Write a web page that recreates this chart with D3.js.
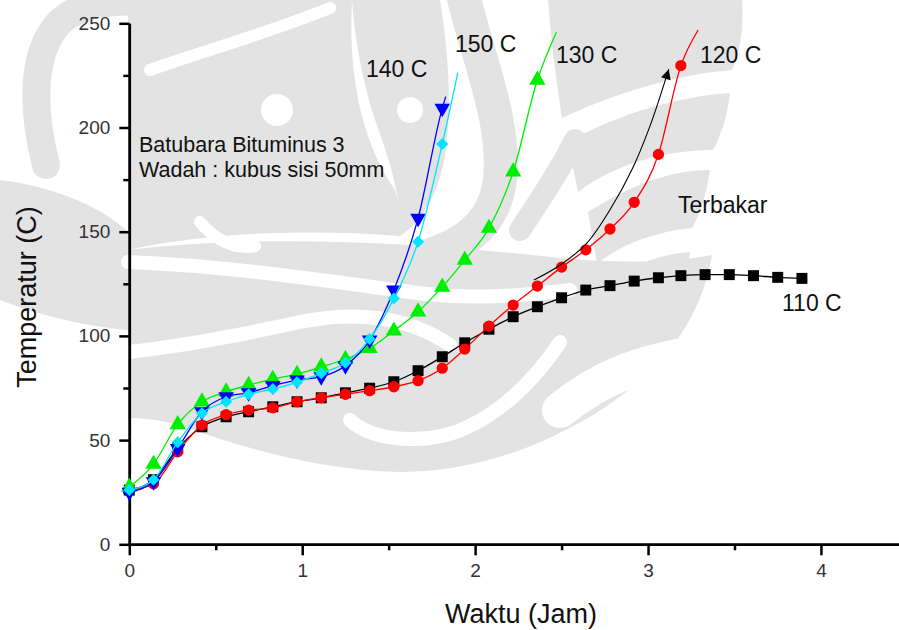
<!DOCTYPE html>
<html>
<head>
<meta charset="utf-8">
<script src="https://cdn.jsdelivr.net/npm/d3@7/dist/d3.min.js"></script>
<style>
  html, body { margin: 0; padding: 0; background: #fff; }
  svg { display: block; }
  text { font-family: "Liberation Sans", Arial, sans-serif; }
</style>
</head>
<body>
<svg id="chart" width="899" height="630"></svg>
<script>
// Sampling times (hours)
const times = [0, 0.14, 0.28, 0.42, 0.56, 0.69, 0.83, 0.97, 1.11, 1.25, 1.39, 1.53, 1.67, 1.81,
               1.94, 2.08, 2.22, 2.36, 2.50, 2.64, 2.78, 2.92, 3.06, 3.19, 3.33, 3.47, 3.61, 3.75, 3.89];

// Measured temperatures (C) for each oven temperature
const temp110 = [26, 31, 46, 56.4, 61.2, 63.6, 66.0, 68.4, 70.3, 72.7, 74.9, 78.0, 83.3, 90.0, 96.7,
                 103.2, 109.2, 114.0, 118.3, 122.0, 124.1, 126.3, 127.9, 128.9, 129.4, 129.4, 128.9, 128.1, 127.6];
const temp120 = [26, 29, 44.4, 57.2, 62.2, 64.4, 65.5, 68.4, 70.3, 72.0, 73.7, 75.6, 78.5, 84.5, 93.7,
                 104.7, 114.8, 123.9, 133.0, 141.3, 151.3, 164.1, 187.1, 229.7];
const temp130 = [27.5, 38.5, 57.5, 68.4, 73.2, 76.4, 79.3, 81.7, 85.2, 88.8, 94.0, 102.4, 111.6, 123.5,
                 136.4, 151.7, 178.8, 222.8];
const temp140 = [25, 30, 46, 63.6, 70.8, 72.7, 76.1, 78.8, 80.4, 85.7, 98.0, 122.0, 156.4, 209.2];
const temp150 = [26, 31, 49, 62.9, 68.4, 72.0, 74.5, 77.7, 82.1, 87.1, 98.5, 118.0, 145.2, 192.1];

// Where each fitted curve runs on past its last reading [time, temp]
const tail120 = [3.29, 246.8];
const tail130 = [2.47, 245.7];
const tail140 = [1.83, 214.8];
const tail150 = [1.90, 226.3];

// "Terbakar" (ignition) trend arrow [time, temp]
const arrowTime = [2.34, 2.49, 2.645, 2.78, 2.915, 3.01, 3.088, 3.12];
const arrowTemp = [126.8, 133.9, 144.4, 160.5, 181.2, 200.4, 219.6, 228];

// Axis ticks
const yMajor = [0, 50, 100, 150, 200, 250];
const yMinor = [25, 75, 125, 175, 225];
const xMajor = [0, 1, 2, 3, 4];
const xMinor = [0.5, 1.5, 2.5, 3.5, 4.5];

const svg = d3.select("#chart");

// ---- faint background emblem (page watermark) ----
const wm = svg.append("g").attr("class", "watermark");
const wmGray = "#e3e3e3";
// filled grey swirls
const wmFills = [
  // upper-left panel behind the caption
  "M128,0 L352,0 C348,70 360,140 395,190 C400,205 402,220 400,236 C300,228 200,234 128,250 Z",
  // left crescent beside the vertical axis
  "M0,180 C50,186 100,205 128,232 L128,330 C80,326 30,312 0,300 Z",
  // centre-left column with its loop
  "M352,0 L440,0 C448,50 452,100 446,150 C440,190 425,220 400,236 C402,200 390,160 375,120 C362,80 355,40 352,0 Z",
  // stacked leaves on the right
  "M548,0 L742,0 C744,28 740,52 732,70 C682,74 622,90 562,118 C556,80 551,40 548,0 Z",
  "M568,142 C622,112 682,96 730,93 C727,118 720,138 713,150 C662,150 612,166 578,192 Z",
  "M588,212 C632,184 672,170 710,170 C706,196 700,214 692,228 C652,232 618,246 597,264 Z",
  "M602,286 C632,264 662,254 690,252 C686,276 680,294 672,306 C646,306 626,312 608,322 Z",
  // broad lower swirl
  "M128,250 C250,235 400,240 560,258 C620,264 680,262 712,255 C702,318 664,368 604,408 " +
  "C542,448 472,472 400,472 C320,470 250,450 182,426 C160,420 145,418 128,418 Z"
];
wm.selectAll("path.fill").data(wmFills).join("path")
  .attr("class", "fill").attr("d", d => d).attr("fill", wmGray);
// grey strokes: top-left hook and central flame
const wmStrokes = [
  { w: 28, d: "M46,165 C32,110 30,50 62,20 C80,5 110,0 140,2" },
  { w: 34, d: "M462,-10 C478,60 506,120 500,180 C494,228 458,248 420,258" },
  { w: 22, d: "M520,230 C540,200 560,170 575,140" }
];
wm.selectAll("path.stroke").data(wmStrokes).join("path")
  .attr("class", "stroke").attr("d", d => d.d)
  .attr("fill", "none").attr("stroke", wmGray).attr("stroke-width", d => d.w)
  .attr("stroke-linecap", "round");
// white gaps carving the swirls
const wmGaps = [
  { w: 14, d: "M128,262 C230,266 320,280 410,292 C470,300 520,296 570,290" },
  { w: 14, d: "M128,352 C190,345 250,333 300,322 C360,310 410,318 450,345" },
  { w: 14, d: "M350,420 C372,442 430,446 470,426 C510,406 540,372 560,342" },
  { w: 36, d: "M560,410 C600,378 640,360 720,350" },
  { w: 12, d: "M200,222 C215,240 235,250 255,246" },
  { w: 12, d: "M150,70 C200,52 260,36 330,8" }
];
wm.selectAll("path.gap").data(wmGaps).join("path")
  .attr("class", "gap").attr("d", d => d.d)
  .attr("fill", "none").attr("stroke", "#fff").attr("stroke-width", d => d.w)
  .attr("stroke-linecap", "round");
wm.append("circle").attr("cx", 410).attr("cy", 110).attr("r", 13).attr("fill", "#fff");
wm.append("circle").attr("cx", 277).attr("cy", 110).attr("r", 16).attr("fill", "#fff");

const x = d3.scaleLinear().domain([0, 4.5]).range([129.3, 907.4]);
const y = d3.scaleLinear().domain([0, 250]).range([544.3, 23.3]);

// ---- axes ----
const axisStyle = g => {
  g.select(".domain").attr("stroke", "#000").attr("stroke-width", 2.5);
  g.selectAll(".tick line").attr("stroke", "#000").attr("stroke-width", 2.5);
  g.selectAll(".tick text").attr("fill", "#333").style("font-size", "19px")
    .style("font-family", '"Liberation Sans", Arial, sans-serif');
};

svg.append("g").attr("transform", `translate(0,${y(0)})`)
  .call(d3.axisBottom(x).tickValues(xMinor).tickSize(6).tickSizeOuter(0).tickFormat(""))
  .call(axisStyle);
svg.append("g").attr("transform", `translate(0,${y(0)})`)
  .call(d3.axisBottom(x).tickValues(xMajor).tickSize(11).tickSizeOuter(0).tickPadding(8).tickFormat(d3.format("d")))
  .call(axisStyle);

svg.append("g").attr("transform", `translate(${x(0)},0)`)
  .call(d3.axisLeft(y).tickValues(yMinor).tickSize(6).tickSizeOuter(0).tickFormat(""))
  .call(axisStyle);
svg.append("g").attr("transform", `translate(${x(0)},0)`)
  .call(d3.axisLeft(y).tickValues(yMajor).tickSize(10).tickSizeOuter(0).tickPadding(9).tickFormat(d3.format("d")))
  .call(axisStyle);

// Axis titles
svg.append("text")
  .attr("transform", "translate(36,297) rotate(-90)")
  .attr("text-anchor", "middle")
  .style("font-size", "27px").attr("fill", "#111")
  .text("Temperatur (C)");
svg.append("text")
  .attr("x", 521).attr("y", 623)
  .attr("text-anchor", "middle")
  .style("font-size", "27px").attr("fill", "#111")
  .text("Waktu (Jam)");

// ---- series ----
const line = d3.line().x(d => x(d[0])).y(d => y(d[1])).curve(d3.curveMonotoneX);
const pairs = vals => vals.map((v, i) => [times[i], v]);

const series = [
  { name: "110 C", vals: temp110, tail: null,    color: "#000000", shape: d3.symbolSquare,   size: 120, rot: 0 },
  { name: "120 C", vals: temp120, tail: tail120, color: "#ff0000", shape: d3.symbolCircle,   size: 100, rot: 0 },
  { name: "130 C", vals: temp130, tail: tail130, color: "#00ee00", shape: d3.symbolTriangle, size: 115, rot: 0 },
  { name: "140 C", vals: temp140, tail: tail140, color: "#0000ff", shape: d3.symbolTriangle, size: 105, rot: 180 },
  { name: "150 C", vals: temp150, tail: tail150, color: "#00e5ff", shape: d3.symbolSquare,   size: 72,  rot: 45 }
];

series.forEach(s => {
  const pts = pairs(s.vals);
  const path = s.tail ? pts.concat([s.tail]) : pts;
  const g = svg.append("g").attr("class", "series");
  g.append("path")
    .attr("d", line(path))
    .attr("fill", "none")
    .attr("stroke", s.color)
    .attr("stroke-width", 1.3);
  g.selectAll("path.pt").data(pts).join("path")
    .attr("class", "pt")
    .attr("transform", d => `translate(${x(d[0])},${y(d[1])}) rotate(${s.rot})`)
    .attr("d", d3.symbol().type(s.shape).size(s.size))
    .attr("fill", s.color);
});

// ---- ignition arrow ----
const arrowPts = arrowTime.map((t, i) => [t, arrowTemp[i]]);
svg.append("defs").append("marker")
  .attr("id", "head")
  .attr("viewBox", "0 0 10 10")
  .attr("refX", 10).attr("refY", 5)
  .attr("markerWidth", 12).attr("markerHeight", 10)
  .attr("markerUnits", "userSpaceOnUse")
  .attr("orient", "auto")
  .append("path").attr("d", "M0,0 L10,5 L0,10 Z").attr("fill", "#000");
svg.append("path")
  .attr("d", d3.line().x(d => x(d[0])).y(d => y(d[1])).curve(d3.curveCatmullRom)(arrowPts))
  .attr("fill", "none")
  .attr("stroke", "#000")
  .attr("stroke-width", 1.1)
  .attr("marker-end", "url(#head)");

// ---- annotations ----
const notes = [
  { text: "Batubara Bituminus 3",   x: 139, y: 152, size: 21.5 },
  { text: "Wadah : kubus sisi 50mm", x: 139, y: 177, size: 21.5 },
  { text: "140 C", x: 366, y: 77, size: 23 },
  { text: "150 C", x: 455, y: 52, size: 23 },
  { text: "130 C", x: 556, y: 63, size: 23 },
  { text: "120 C", x: 700, y: 63, size: 23 },
  { text: "Terbakar", x: 678, y: 213, size: 23 },
  { text: "110 C", x: 782, y: 311, size: 23 }
];
svg.append("g").selectAll("text").data(notes).join("text")
  .attr("x", d => d.x).attr("y", d => d.y)
  .style("font-size", d => d.size + "px").attr("fill", "#111")
  .text(d => d.text);
</script>
</body>
</html>
